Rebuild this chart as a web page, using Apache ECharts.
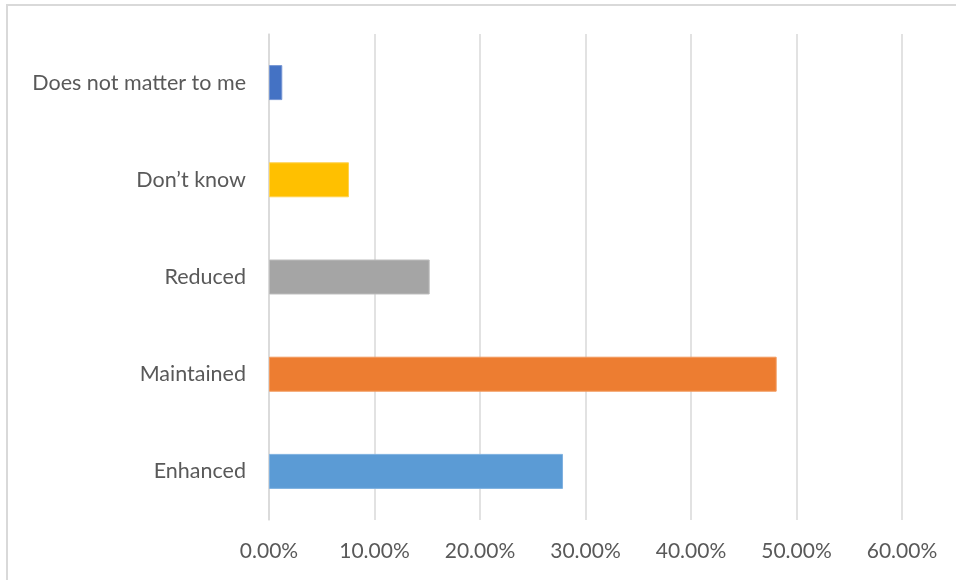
<!DOCTYPE html>
<html>
<head>
<meta charset="utf-8">
<script src="https://cdn.jsdelivr.net/npm/echarts@6/dist/echarts.min.js"></script>
<style>html,body{margin:0;padding:0;background:#fff}#c{width:956px;height:580px}</style>
</head>
<body>
<div id="c"></div>
<script>
const categories = ["Enhanced", "Maintained", "Reduced", "Don\u2019t know", "Does not matter to me"];
const values = [0.2787, 0.4812, 0.1523, 0.0758, 0.0126];
const barColors = ["#5B9BD5", "#ED7D31", "#A5A5A5", "#FFC000", "#4472C4"];
const borderColors = ["#7FB1E0", "#F29A5E", "#BDBDBD", "#FFD24D", "#7596D3"];
const xTicks = { min: 0, max: 0.6, interval: 0.1 };

const chart = echarts.init(document.getElementById('c'));
const FONT = 'Lato';
chart.setOption({
  animation: false,
  backgroundColor: '#fff',
  graphic: [{
    type: 'rect', shape: { x: 7, y: 5, width: 1000, height: 600 },
    style: { fill: 'none', stroke: '#D9D9D9', lineWidth: 2 }, silent: true
  }],
  grid: { left: 269, right: 54, top: 34, bottom: 60 },
  xAxis: {
    type: 'value', min: xTicks.min, max: xTicks.max, interval: xTicks.interval,
    axisLine: { show: false }, axisTick: { show: false },
    splitLine: { lineStyle: { color: '#D9D9D9', width: 1.5 } },
    axisLabel: {
      color: '#595959', fontFamily: FONT, fontSize: 21, margin: 21,
      formatter: v => (v * 100).toFixed(2) + '%'
    }
  },
  yAxis: {
    type: 'category', data: categories,
    axisLine: { show: true, lineStyle: { color: '#D9D9D9', width: 1.5 } },
    axisTick: { show: false },
    axisLabel: { color: '#595959', fontFamily: FONT, fontSize: 21.5, margin: 23 }
  },
  series: [{
    type: 'bar', barWidth: '36%',
    data: values.map((v, i) => ({
      value: v,
      itemStyle: { color: barColors[i], borderColor: borderColors[i], borderWidth: 1 }
    }))
  }]
});
</script>
</body>
</html>
